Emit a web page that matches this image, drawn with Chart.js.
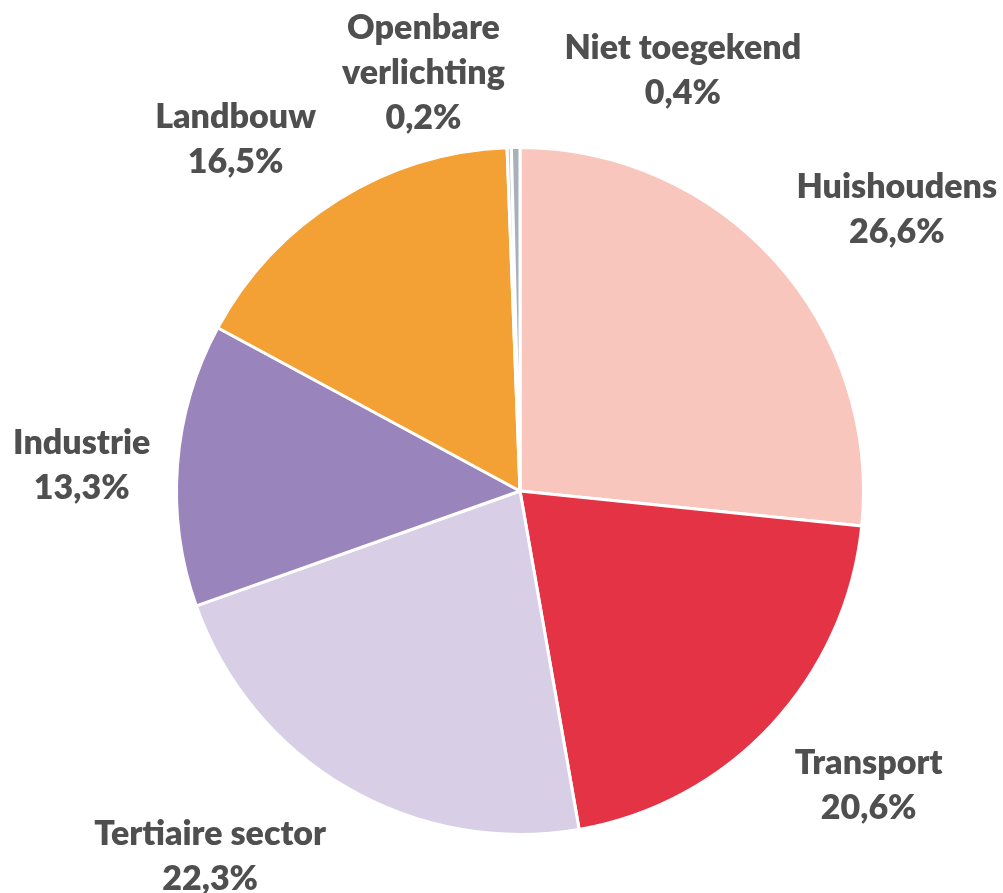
<!DOCTYPE html>
<html>
<head>
<meta charset="utf-8">
<script src="https://cdn.jsdelivr.net/npm/chart.js@4.4.1/dist/chart.umd.min.js"></script>
<style>
  html, body { margin: 0; padding: 0; background: #ffffff; }
  #wrap { width: 1003px; height: 893px; position: relative; }
</style>
</head>
<body>
<div id="wrap"><canvas id="pie" width="1003" height="893"></canvas></div>
<script>
// Energy use per sector (share in %)
const categories = ['Huishoudens', 'Transport', 'Tertiaire sector', 'Industrie', 'Landbouw', 'Openbare verlichting', 'Niet toegekend'];
const shares = [26.6, 20.6, 22.3, 13.3, 16.5, 0.2, 0.4];
// Label name lines per sector
const labelNames = [['Huishoudens'], ['Transport'], ['Tertiaire sector'], ['Industrie'], ['Landbouw'], ['Openbare', 'verlichting'], ['Niet toegekend']];

const sliceColors = ['#F8C6BD', '#E53346', '#D8CFE6', '#9A84BC', '#F3A034', '#C3CBD0', '#A7B2B8'];

// Label anchor offsets, as multiples of the pie radius from its centre
const labelOffsets = [
  [1.097, -0.820], [1.015, 0.857], [-0.902, 1.065], [-1.276, -0.075],
  [-0.828, -1.022], [-0.281, -1.217], [0.474, -1.225]
];

const fmtPct = v => v.toFixed(1).replace('.', ',') + '%';

const labelPlugin = {
  id: 'sliceLabels',
  afterDatasetsDraw(chart) {
    const meta = chart.getDatasetMeta(0);
    const arc0 = meta.data[0];
    if (!arc0) return;
    const cx = arc0.x, cy = arc0.y, r = arc0.outerRadius;
    const ctx = chart.ctx;
    ctx.save();
    ctx.font = '800 34px Lato';
    ctx.fillStyle = '#4f4f4f';
    ctx.textAlign = 'center';
    ctx.textBaseline = 'middle';
    const lineH = 45;
    shares.forEach((v, i) => {
      const lines = labelNames[i].concat([fmtPct(v)]);
      const ax = cx + labelOffsets[i][0] * r;
      const ay = cy + labelOffsets[i][1] * r;
      const top = ay - (lines.length - 1) * lineH / 2;
      lines.forEach((t, k) => ctx.fillText(t, ax, top + k * lineH));
    });
    ctx.restore();
  }
};

new Chart(document.getElementById('pie'), {
  type: 'pie',
  data: {
    labels: categories,
    datasets: [{
      data: shares,
      backgroundColor: sliceColors,
      borderColor: '#ffffff',
      borderWidth: 3
    }]
  },
  options: {
    responsive: false,
    animation: false,
    layout: { padding: { left: 175, right: 138, top: 146, bottom: 57 } },
    plugins: {
      legend: { display: false },
      tooltip: { enabled: false }
    }
  },
  plugins: [labelPlugin]
});
</script>
</body>
</html>
